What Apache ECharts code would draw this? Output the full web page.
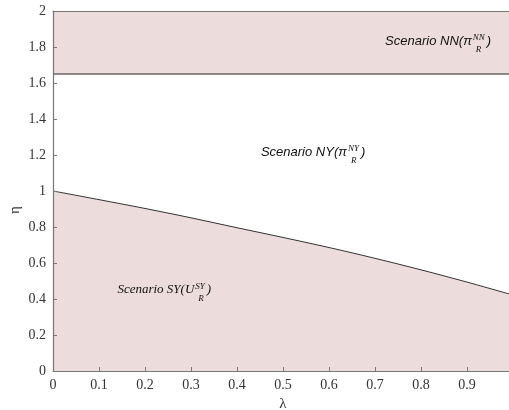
<!DOCTYPE html>
<html><head><meta charset="utf-8">
<script src="https://cdn.jsdelivr.net/npm/echarts@6/dist/echarts.min.js"></script>
<style>html,body{margin:0;padding:0;background:#fff}#c{width:509px;height:410px}</style>
</head><body><div id="c"></div>
<script>
const lambdaVals = [0, 0.1, 0.2, 0.3, 0.4, 0.5, 0.6, 0.7, 0.8, 0.9, 1.0];
const etaBoundary = [1.0, 0.952, 0.903, 0.851, 0.796, 0.742, 0.686, 0.626, 0.562, 0.494, 0.422];
const nnLower = 1.65;
const etaMax = 2;
const xTickLabels = ['0','0.1','0.2','0.3','0.4','0.5','0.6','0.7','0.8','0.9',''];
const yTickLabels = ['0','0.2','0.4','0.6','0.8','1','1.2','1.4','1.6','1.8','2'];
const regionLabels = [
  {main: 'Scenario NN(\u03c0', sup: 'NN', sub: 'R', x: 0.722, y: 1.833, font: 'Liberation Sans'},
  {main: 'Scenario NY(\u03c0', sup: 'NY', sub: 'R', x: 0.452, y: 1.217, font: 'Liberation Sans'},
  {main: 'Scenario SY(U', sup: 'SY', sub: 'R', x: 0.140, y: 0.45, font: 'Liberation Serif'}
];

const fill = '#eddcdc';
const chart = echarts.init(document.getElementById('c'), null, {renderer: 'canvas'});
const serif = 'Liberation Serif';
chart.setOption({
  animation: false,
  grid: {left: 53, top: 11, width: 460, height: 360, outerBoundsMode: 'none', containLabel: false},
  xAxis: [{
    type: 'value', min: 0, max: 1, interval: 0.1, z: 5,
    axisLine: {show: true, lineStyle: {color: '#777', width: 1.2}},
    axisTick: {show: true, inside: true, length: 4, lineStyle: {color: '#777'}},
    splitLine: {show: false},
    axisLabel: {fontFamily: serif, fontSize: 14, color: '#333', margin: 7,
      formatter: (v) => xTickLabels[Math.round(v * 10)] || ''},
    name: '\u03bb', nameLocation: 'middle', nameGap: 26,
    nameTextStyle: {fontFamily: serif, fontSize: 15, color: '#333'}
  }, {
    type: 'value', min: 0, max: 1, position: 'top', z: 5,
    axisLine: {show: true, lineStyle: {color: '#777', width: 1.2}},
    axisTick: {show: false}, axisLabel: {show: false}, splitLine: {show: false}
  }],
  yAxis: {
    type: 'value', min: 0, max: etaMax, interval: 0.2, z: 5,
    axisLine: {show: true, lineStyle: {color: '#777', width: 1.2}},
    axisTick: {show: true, inside: true, length: 4, lineStyle: {color: '#777'}},
    splitLine: {show: false},
    axisLabel: {fontFamily: serif, fontSize: 14, color: '#333', margin: 7,
      formatter: (v) => yTickLabels[Math.round(v * 5)]}
  },
  series: [{
    type: 'line', xAxisIndex: 0, symbol: 'none', smooth: 0.3,
    data: lambdaVals.map((x, i) => [x, etaBoundary[i]]),
    lineStyle: {color: '#333', width: 1},
    areaStyle: {color: fill, opacity: 1}
  }, {
    type: 'line', xAxisIndex: 0, symbol: 'none',
    data: [[lambdaVals[0], nnLower], [lambdaVals[lambdaVals.length - 1], nnLower]],
    lineStyle: {color: '#666', width: 1.4},
    areaStyle: {color: fill, opacity: 1, origin: 'end'}
  }]
});

const cv = document.createElement('canvas').getContext('2d');
function tw(text, font) { cv.font = font; return cv.measureText(text).width; }
const graphics = [];
regionLabels.forEach((L) => {
  const p = chart.convertToPixel({xAxisIndex: 0, yAxisIndex: 0}, [L.x, L.y]);
  const mainFont = 'italic 13px "' + L.font + '"';
  const smallFont = 'italic 9px "Liberation Serif"';
  const w = tw(L.main, mainFont);
  graphics.push({type: 'text', z: 100, x: p[0], y: p[1], style: {text: L.main, font: mainFont, fill: '#111', textVerticalAlign: 'middle'}});
  const sx = p[0] + w + 1;
  graphics.push({type: 'text', z: 100, x: sx, y: p[1] - 3, style: {text: L.sup, font: smallFont, fill: '#111', textVerticalAlign: 'middle'}});
  graphics.push({type: 'text', z: 100, x: sx + 3, y: p[1] + 9, style: {text: L.sub, font: smallFont, fill: '#111', textVerticalAlign: 'middle'}});
  const ex = sx + Math.max(tw(L.sup, smallFont), tw(L.sub, smallFont) + 3) + 2;
  graphics.push({type: 'text', z: 100, x: ex, y: p[1], style: {text: ')', font: mainFont, fill: '#111', textVerticalAlign: 'middle'}});
});
graphics.push({type: 'text', z: 100, x: 15, y: 210, rotation: Math.PI / 2,
  style: {text: '\u03b7', font: '15px "Liberation Serif"', fill: '#333', textAlign: 'center', textVerticalAlign: 'middle'}});
chart.setOption({graphic: graphics});
</script></body></html>
